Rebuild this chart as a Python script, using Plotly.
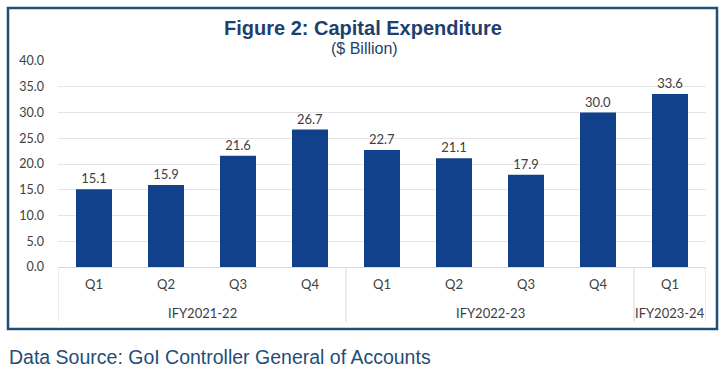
import plotly.graph_objects as go

fiscal_years = ["IFY2021-22"] * 4 + ["IFY2022-23"] * 4 + ["IFY2023-24"]
quarters = ["Q1", "Q2", "Q3", "Q4", "Q1", "Q2", "Q3", "Q4", "Q1"]
capex = [15.1, 15.9, 21.6, 26.7, 22.7, 21.1, 17.9, 30.0, 33.6]
y_ticks = [0, 5, 10, 15, 20, 25, 30, 35, 40]

W, H = 725, 375
L, R, T, B = 58, 19, 61, 108
pw, ph = W - L - R, H - T - B

def px_x(x):
    return (x - L) / pw

def px_y(y):
    return (H - B - y) / ph

idx = list(range(len(quarters)))

fig = go.Figure(go.Bar(
    x=idx,
    y=capex,
    marker=dict(color="#11418a", line=dict(width=0)),
    text=[f"{v:.1f}" for v in capex],
    textposition="outside",
    textfont=dict(family="Lato", size=13, color="#404040"),
    cliponaxis=False,
))

# group labels and dividers derived from the fiscal-year list
groups = []
for i, fy in enumerate(fiscal_years):
    if not groups or groups[-1][0] != fy:
        groups.append([fy, i, i])
    else:
        groups[-1][2] = i

shapes = [dict(
    type="rect", xref="paper", yref="paper",
    x0=px_x(8), x1=px_x(717), y0=px_y(8), y1=px_y(329),
    line=dict(color="#1f4e79", width=2.5), fillcolor="rgba(0,0,0,0)",
    layer="below",
)]
annotations = []
bounds = [g[1] - 0.5 for g in groups] + [groups[-1][2] + 0.5]
for b in bounds:
    shapes.append(dict(type="line", xref="x", yref="paper", x0=b, x1=b,
                       y0=0, y1=px_y(322), line=dict(color="#d9d9d9", width=1)))
for fy, a, b in groups:
    annotations.append(dict(text=fy, xref="x", yref="paper", x=(a + b) / 2, y=px_y(313),
                            xanchor="center", yanchor="middle", showarrow=False,
                            font=dict(family="Lato", size=13, color="#404040")))

annotations += [
    dict(text="<b>Figure 2: Capital Expenditure</b>", xref="paper", yref="paper",
         x=px_x(362.5), y=px_y(28), xanchor="center", yanchor="middle", showarrow=False,
         font=dict(family="Liberation Sans", size=20, color="#1f3f6e")),
    dict(text="($ Billion)", xref="paper", yref="paper",
         x=px_x(364), y=px_y(48), xanchor="center", yanchor="middle", showarrow=False,
         font=dict(family="Liberation Sans", size=16, color="#1f3f6e")),
    dict(text="Data Source: GoI Controller General of Accounts", xref="paper", yref="paper",
         x=px_x(7), y=px_y(357), xanchor="left", yanchor="middle", showarrow=False,
         font=dict(family="Liberation Sans", size=19.5, color="#1f4e79")),
]

fig.update_layout(
    width=W, height=H,
    margin=dict(l=L, r=R, t=T, b=B, autoexpand=False),
    paper_bgcolor="white", plot_bgcolor="white",
    bargap=0.5,
    showlegend=False,
    xaxis=dict(
        range=[-0.5, len(quarters) - 0.5],
        tickvals=idx, ticktext=quarters,
        tickfont=dict(family="Lato", size=13, color="#404040"),
        showline=True, linecolor="#d9d9d9", linewidth=1,
        showgrid=False, zeroline=False,
        ticks="", ticklabelstandoff=5,
    ),
    yaxis=dict(
        range=[0, 40],
        tickvals=y_ticks,
        tickformat=".1f",
        tickfont=dict(family="Lato", size=12.5, color="#404040"),
        gridcolor="#e3e3e8", gridwidth=1,
        zeroline=False,
        ticks="", ticklabelstandoff=13,
    ),
    shapes=shapes,
    annotations=annotations,
)

fig.write_html("out.html", config={"displayModeBar": False},
               post_script="document.body.style.margin='0';")
